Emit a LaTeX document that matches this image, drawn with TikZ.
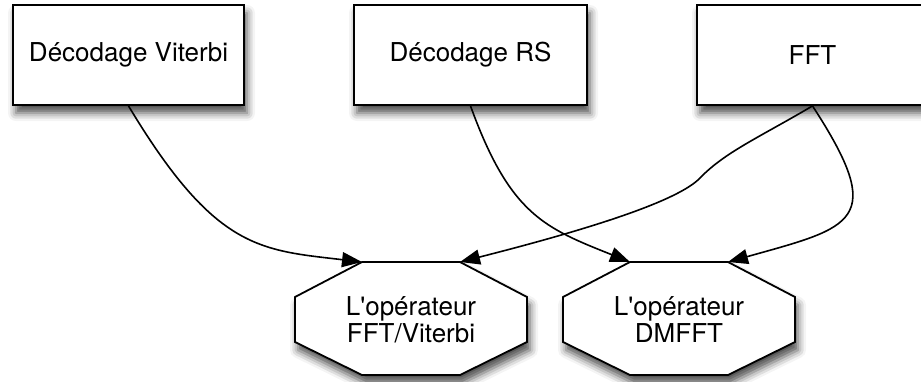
\documentclass[tikz,border=0pt]{standalone}
\usepackage{fontspec}
\setmainfont{TeX Gyre Heros}
\usetikzlibrary{arrows.meta,shadows.blur}
\tikzset{
  shad/.style={blur shadow={shadow xshift=3pt, shadow yshift=-8pt, shadow blur radius=8pt, shadow opacity=70}},
  boxnode/.style={draw=black, line width=1.8pt, fill=white, minimum width=231pt, minimum height=100pt, inner sep=0pt, font=\fontsize{26}{28}\selectfont, shad},
  optext/.style={align=center, inner sep=0pt, font=\fontsize{26}{27}\selectfont},
  octo/.style={draw=black, line width=1.8pt, fill=white, line join=miter, shad},
  conn/.style={draw=black, line width=1.6pt, -{Triangle[length=20pt,width=15pt]}},
}
\begin{document}
\begin{tikzpicture}[x=1pt,y=-1pt]
\useasboundingbox (0,0) rectangle (921,381);
\clip (0,0) rectangle (921,381);
% boxes
\node[boxnode] (vit) at (128.5,55) {Décodage Viterbi};
\node[boxnode, minimum width=233pt] (rs) at (470.5,55) {Décodage RS};
\node[boxnode] (fft) at (812.5,55) {FFT};
% octagons
\draw[octo] (295,297) -- (362,262) -- (460,262) -- (527,297) -- (527,342) -- (460,375) -- (362,375) -- (295,342) -- cycle;
\draw[octo] (563,297) -- (630,262) -- (728,262) -- (795,297) -- (795,342) -- (728,375) -- (630,375) -- (563,342) -- cycle;
\coordinate (opAnw) at (362,262);
\coordinate (opAne) at (460,262);
\coordinate (opBnw) at (630,262);
\coordinate (opBne) at (728,262);
\node[optext] (opA) at (411,320) {L\textquotesingle opérateur\\FFT/Viterbi};
\node[optext] (opB) at (679,320) {L\textquotesingle opérateur\\DMFFT};
% connectors
\draw[conn] (vit.south) .. controls (215,250) and (260,250) .. (opAnw);
\draw[conn] (rs.south) .. controls (510,215) and (545,228) .. (opBnw);
\draw[conn] (fft.south) .. controls (760,137) and (725,152) .. (700,178)
  .. controls (678,201) and (590,229) .. (opAne);
\draw[conn] (fft.south) .. controls (888,222) and (853,227) .. (opBne);
\end{tikzpicture}
\end{document}
